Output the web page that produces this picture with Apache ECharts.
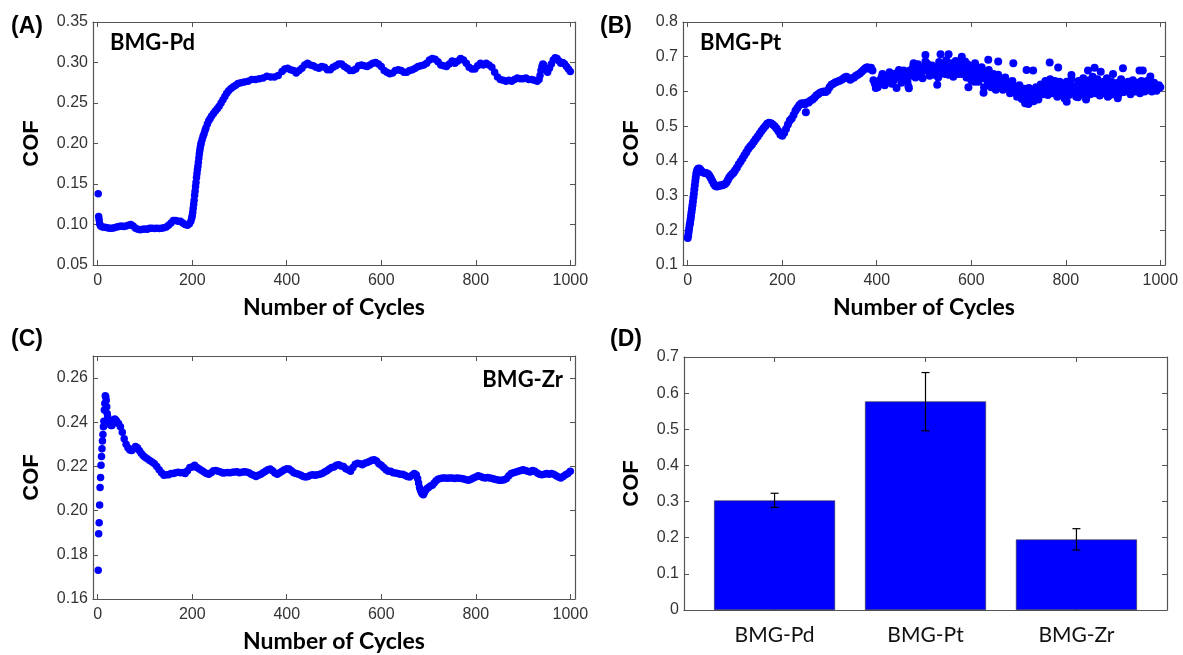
<!DOCTYPE html>
<html>
<head>
<meta charset="utf-8">
<script src="https://cdn.jsdelivr.net/npm/echarts@6.0.0/dist/echarts.min.js"></script>
<style>
  html, body { margin: 0; padding: 0; background: #fff; }
  #chart { width: 1183px; height: 655px; }
</style>
</head>
<body>
<div id="chart"></div>
<script>
// tick labels
const cycleTicks = [0, 200, 400, 600, 800, 1000]
const pdTicks = [0.05, 0.10, 0.15, 0.20, 0.25, 0.30, 0.35]
const ptTicks = [0.1, 0.2, 0.3, 0.4, 0.5, 0.6, 0.7, 0.8]
const zrTicks = [0.16, 0.18, 0.20, 0.22, 0.24, 0.26]
const barTicks = [0, 0.1, 0.2, 0.3, 0.4, 0.5, 0.6, 0.7]

// (A) BMG-Pd
const pdCycles = [1, 2, 3, 4, 6, 10, 15, 20, 25, 30, 35, 40, 45, 50, 55, 60, 65, 70, 75, 80, 85, 90, 95, 100,
  105, 110, 115, 120, 125, 130, 135, 140, 145, 150, 155, 160, 165, 170, 175, 180, 185, 190, 194, 197, 199,
  200, 201, 202, 203, 204, 205, 206, 207, 208, 209, 210, 211, 212, 213, 214, 215, 216, 217, 218, 219, 221, 223, 225, 227, 229,
  232, 235, 238, 241, 245, 249, 253, 257, 261, 265, 269, 273, 277, 282, 287, 292, 297, 303, 310, 318,
  326, 334, 342, 350, 358, 366, 374, 382, 390, 396, 402, 408, 414, 420, 426, 432, 438, 444, 450, 456,
  462, 468, 474, 480, 486, 492, 498, 504, 510, 516, 522, 528, 534, 540, 546, 552, 558, 564, 570, 576,
  582, 588, 594, 600, 606, 612, 618, 624, 630, 636, 642, 648, 654, 660, 666, 672, 678, 684, 690, 696,
  702, 708, 714, 720, 726, 732, 738, 744, 750, 756, 762, 768, 774, 780, 786, 792, 798, 804, 810, 816,
  822, 828, 834, 840, 846, 852, 858, 864, 870, 876, 882, 888, 894, 900, 906, 912, 918, 924, 930, 934,
  936, 938, 940, 942, 944, 948, 952, 956, 960, 964, 968, 972, 976, 980, 984, 988, 992, 996, 1000]
const pdCof = [0.138, 0.110, 0.106, 0.101, 0.098, 0.097, 0.0965, 0.096, 0.0955, 0.0955, 0.096, 0.097, 0.0975, 0.098, 0.0975, 0.098, 0.099, 0.100, 0.098, 0.0955, 0.094, 0.0935, 0.094, 0.0945,
  0.094, 0.0955, 0.0955, 0.095, 0.0955, 0.095, 0.0955, 0.096, 0.097, 0.099, 0.102, 0.105, 0.105, 0.104, 0.104, 0.102, 0.100, 0.099, 0.101, 0.104, 0.108,
  0.111, 0.115, 0.120, 0.125, 0.130, 0.136, 0.141, 0.147, 0.152, 0.158, 0.163, 0.168, 0.172, 0.177, 0.182, 0.187, 0.191, 0.195, 0.198, 0.201, 0.205, 0.209, 0.212, 0.216, 0.219,
  0.224, 0.228, 0.231, 0.234, 0.237, 0.240, 0.243, 0.246, 0.250, 0.254, 0.258, 0.262, 0.265, 0.268, 0.270, 0.272, 0.274, 0.275, 0.276, 0.277,
  0.279, 0.279, 0.280, 0.281, 0.283, 0.282, 0.282, 0.284, 0.289, 0.292, 0.293, 0.291, 0.290, 0.287, 0.290, 0.293, 0.297, 0.299, 0.297, 0.296,
  0.294, 0.293, 0.295, 0.294, 0.291, 0.291, 0.294, 0.296, 0.298, 0.298, 0.295, 0.293, 0.290, 0.290, 0.292, 0.296, 0.297, 0.296, 0.295, 0.297,
  0.299, 0.300, 0.298, 0.295, 0.290, 0.288, 0.286, 0.287, 0.290, 0.291, 0.290, 0.288, 0.288, 0.290, 0.291, 0.293, 0.295, 0.296, 0.297, 0.299,
  0.303, 0.305, 0.304, 0.301, 0.297, 0.296, 0.295, 0.298, 0.302, 0.299, 0.302, 0.305, 0.303, 0.299, 0.294, 0.292, 0.292, 0.296, 0.299, 0.297,
  0.299, 0.297, 0.294, 0.288, 0.282, 0.279, 0.278, 0.277, 0.278, 0.277, 0.279, 0.281, 0.280, 0.280, 0.281, 0.279, 0.279, 0.278, 0.277, 0.279,
  0.284, 0.290, 0.295, 0.298, 0.297, 0.292, 0.288, 0.293, 0.298, 0.303, 0.306, 0.305, 0.302, 0.299, 0.300, 0.298, 0.295, 0.292, 0.289]

// (B) BMG-Pt, main band
const ptCycles = [0, 1, 2, 3, 4, 5, 6, 7, 8, 9, 10, 11, 12, 13, 14, 15, 16, 17, 18, 19, 20, 22, 24, 26, 28, 31, 34, 37, 40,
  43, 46, 49, 52, 55, 58, 61, 64, 67, 70, 73, 76, 79, 82, 85, 88, 91, 94, 97, 100, 104, 108, 112, 116, 120, 124,
  128, 132, 136, 140, 144, 148, 152, 156, 160, 164, 168, 172, 176, 180, 184, 188, 192, 196, 200, 204, 208, 212,
  216, 220, 224, 228, 232, 236, 240, 244, 248, 250, 252, 256, 260, 264, 268, 272, 276, 280, 284, 288, 292, 296,
  300, 304, 308, 312, 316, 320, 324, 328, 332, 336, 340, 344, 348, 352, 356, 360, 364, 368, 372, 376, 380, 384,
  388, 391, 393, 396, 398, 400, 403,
  405, 410, 415, 420, 425, 430, 435, 440, 445, 450, 455, 460, 465, 470, 475, 480, 485, 490, 495, 500,
  505, 510, 515, 520, 525, 530, 535, 540, 545, 550, 555, 560, 565, 570, 575, 580, 585, 590, 595, 600,
  605, 610, 615, 620, 625, 630, 635, 640, 645, 650, 655, 660, 665, 670, 675, 680, 685, 690, 695, 700,
  705, 710, 715, 720, 725, 730, 735, 740, 745, 750, 755, 760, 765, 770, 775, 780, 785, 790, 795, 800,
  805, 810, 815, 820, 825, 830, 835, 840, 845, 850, 855, 860, 865, 870, 875, 880, 885, 890, 895, 900,
  905, 910, 915, 920, 925, 930, 935, 940, 945, 950, 955, 960, 965, 970, 975, 980, 985, 990, 995, 1000]
const ptCof = [0.178, 0.185, 0.195, 0.205, 0.215, 0.222, 0.232, 0.242, 0.252, 0.262, 0.272, 0.283, 0.295, 0.305, 0.318, 0.330, 0.342, 0.352, 0.362, 0.368, 0.373, 0.377, 0.378, 0.376, 0.372, 0.368, 0.366, 0.365, 0.364,
  0.362, 0.357, 0.350, 0.342, 0.334, 0.328, 0.326, 0.327, 0.329, 0.329, 0.330, 0.331, 0.333, 0.338, 0.345, 0.353, 0.358, 0.362, 0.366, 0.372, 0.380, 0.390, 0.398, 0.407, 0.416, 0.425,
  0.434, 0.441, 0.447, 0.455, 0.463, 0.470, 0.478, 0.486, 0.493, 0.500, 0.507, 0.510, 0.508, 0.505, 0.500, 0.493, 0.485, 0.476, 0.472, 0.480, 0.492, 0.505,
  0.516, 0.522, 0.532, 0.544, 0.552, 0.560, 0.565, 0.566, 0.563, 0.540, 0.568, 0.568, 0.574, 0.577, 0.582, 0.588, 0.592, 0.596, 0.598, 0.600, 0.598, 0.603,
  0.612, 0.619, 0.622, 0.626, 0.628, 0.630, 0.632, 0.636, 0.640, 0.642, 0.638, 0.634, 0.638, 0.640, 0.645, 0.648, 0.652, 0.657, 0.662, 0.667, 0.670, 0.665,
  0.668, 0.660, 0.632, 0.622, 0.610, 0.618, 0.627,
  0.625, 0.640, 0.628, 0.645, 0.635, 0.648, 0.630, 0.652, 0.640, 0.655, 0.638, 0.650, 0.628, 0.660, 0.645, 0.665, 0.650, 0.668, 0.655, 0.672,
  0.660, 0.668, 0.652, 0.670, 0.658, 0.640, 0.665, 0.675, 0.650, 0.668, 0.660, 0.678, 0.655, 0.672, 0.665, 0.650, 0.668, 0.640, 0.655, 0.632,
  0.660, 0.645, 0.628, 0.650, 0.638, 0.655, 0.625, 0.645, 0.630, 0.640, 0.622, 0.635, 0.618, 0.632, 0.610, 0.625, 0.605, 0.615, 0.600, 0.612,
  0.595, 0.605, 0.590, 0.600, 0.585, 0.598, 0.592, 0.605, 0.595, 0.612, 0.600, 0.618, 0.605, 0.625, 0.610, 0.620, 0.602, 0.615, 0.598, 0.612,
  0.605, 0.620, 0.600, 0.615, 0.598, 0.625, 0.608, 0.618, 0.600, 0.632, 0.610, 0.622, 0.605, 0.618, 0.600, 0.628, 0.612, 0.620, 0.602, 0.615,
  0.605, 0.625, 0.610, 0.618, 0.600, 0.612, 0.605, 0.620, 0.608, 0.625, 0.612, 0.630, 0.615, 0.622, 0.608, 0.618, 0.612, 0.615, 0.610, 0.612]
// (B) BMG-Pt, second layer of the noisy band
const ptBandCycles = [402, 407, 412, 417, 422, 427, 432, 437, 442, 447, 452, 457, 462, 467, 472, 477, 482, 487, 492, 497,
  502, 507, 512, 517, 522, 527, 532, 537, 542, 547, 552, 557, 562, 567, 572, 577, 582, 587, 592, 597,
  602, 607, 612, 617, 622, 627, 632, 637, 642, 647, 652, 657, 662, 667, 672, 677, 682, 687, 692, 697,
  702, 707, 712, 717, 722, 727, 732, 737, 742, 747, 752, 757, 762, 767, 772, 777, 782, 787, 792, 797,
  802, 807, 812, 817, 822, 827, 832, 837, 842, 847, 852, 857, 862, 867, 872, 877, 882, 887, 892, 897,
  902, 907, 912, 917, 922, 927, 932, 937, 942, 947, 952, 957, 962, 967, 972, 977, 982, 987, 992, 997]
const ptBandCof = [0.612, 0.632, 0.650, 0.618, 0.638, 0.655, 0.622, 0.645, 0.610, 0.662, 0.625, 0.660, 0.645, 0.615, 0.650, 0.672, 0.640, 0.678, 0.650, 0.638,
  0.662, 0.680, 0.645, 0.675, 0.648, 0.665, 0.685, 0.652, 0.660, 0.690, 0.648, 0.670, 0.642, 0.688, 0.650, 0.682, 0.662, 0.652, 0.678, 0.645,
  0.668, 0.628, 0.665, 0.640, 0.670, 0.612, 0.640, 0.662, 0.612, 0.650, 0.605, 0.648, 0.628, 0.605, 0.640, 0.620, 0.595, 0.630, 0.600, 0.585,
  0.618, 0.578, 0.608, 0.572, 0.610, 0.588, 0.572, 0.612, 0.585, 0.620, 0.592, 0.630, 0.590, 0.635, 0.595, 0.630, 0.585, 0.628, 0.600, 0.580,
  0.628, 0.590, 0.635, 0.608, 0.585, 0.630, 0.592, 0.638, 0.585, 0.625, 0.592, 0.642, 0.595, 0.635, 0.588, 0.618, 0.595, 0.638, 0.588, 0.628,
  0.592, 0.618, 0.592, 0.635, 0.598, 0.622, 0.628, 0.592, 0.632, 0.600, 0.622, 0.595, 0.620, 0.600, 0.630, 0.608, 0.600, 0.625, 0.602, 0.618]
// (B) BMG-Pt, scattered points above/below the band
const ptOutCycles = [478, 503, 503, 535, 552, 555, 580, 587, 608, 636, 657, 689, 717, 731, 766, 784, 812, 847, 861, 874,
  900, 921, 956, 963, 979, 468, 528, 594, 626, 714, 721, 742, 802, 826, 843, 910, 889, 987, 998]
const ptOutCof = [0.681, 0.705, 0.686, 0.707, 0.707, 0.681, 0.700, 0.686, 0.681, 0.691, 0.686, 0.681, 0.662, 0.660, 0.683, 0.669, 0.647, 0.660, 0.668, 0.657,
  0.650, 0.667, 0.660, 0.660, 0.643, 0.609, 0.619, 0.612, 0.596, 0.566, 0.564, 0.577, 0.570, 0.583, 0.577, 0.580, 0.585, 0.609, 0.612]

// (C) BMG-Zr
const zrCycles = [1, 2, 3, 4, 5, 6, 7, 8, 9, 10, 11, 12, 13, 14, 15, 16, 17, 18, 19, 20, 21, 22, 24, 26, 28, 30, 32, 34, 36, 38,
  40, 44, 48, 52, 56, 60, 64, 68, 72, 76, 80, 84, 88, 92, 96, 100, 105, 110, 115, 120, 125, 130, 135, 140,
  145, 150, 155, 160, 165, 170, 175, 180, 185, 190, 195, 200, 205, 210, 215, 220, 225, 230, 235, 240, 245, 250,
  255, 260, 265, 270, 275, 280, 285, 290, 295, 300, 305, 310, 315, 320, 325, 330, 335, 340, 345, 350, 355, 360,
  365, 370, 375, 380, 385, 390, 395, 400, 405, 410, 415, 420, 425, 430, 435, 440, 445, 450, 455, 460, 465, 470,
  475, 480, 485, 490, 495, 500, 505, 510, 515, 520, 525, 530, 535, 540, 545, 550, 555, 560, 565, 570, 575, 580,
  585, 590, 595, 600, 605, 610, 615, 620, 625, 630, 635, 640, 645, 650, 655, 660, 665, 670, 674, 677, 679, 681,
  683, 685, 687, 689, 691, 694, 697, 700, 704, 708, 712, 716, 720, 725, 730, 735, 740, 745, 750, 755, 760, 765,
  770, 775, 780, 785, 790, 795, 800, 805, 810, 815, 820, 825, 830, 835, 840, 845, 850, 855, 860, 865, 870, 875,
  880, 885, 890, 895, 900, 905, 910, 915, 920, 925, 930, 935, 940, 945, 950, 955, 960, 965, 970, 975, 980, 985,
  990, 995, 1000]
const zrCof = [0.173, 0.1895, 0.1945, 0.2025, 0.2105, 0.215, 0.2205, 0.2245, 0.228, 0.2315, 0.2345, 0.238, 0.2405, 0.2455, 0.2485, 0.252, 0.2515, 0.250, 0.247, 0.244, 0.2425, 0.2415, 0.240, 0.239, 0.2385, 0.2385, 0.2395, 0.241, 0.2415, 0.241,
  0.2405, 0.2395, 0.238, 0.2355, 0.2325, 0.230, 0.2285, 0.2275, 0.2272, 0.228, 0.229, 0.2285, 0.2272, 0.226, 0.225, 0.2242, 0.2235, 0.2227, 0.222, 0.2212, 0.220, 0.2185, 0.2172, 0.216,
  0.2163, 0.2163, 0.2168, 0.2168, 0.2172, 0.2174, 0.2172, 0.2173, 0.2168, 0.218, 0.2195, 0.2198, 0.2205, 0.2195, 0.2188, 0.2182, 0.2175, 0.2168, 0.2165, 0.2172, 0.218, 0.2182,
  0.2178, 0.2175, 0.217, 0.2172, 0.2173, 0.2172, 0.2174, 0.2175, 0.2176, 0.2172, 0.2174, 0.2176, 0.2175, 0.2172, 0.2165, 0.216, 0.2155, 0.216, 0.2165, 0.2172, 0.2178, 0.2185,
  0.2188, 0.218, 0.217, 0.2165, 0.2172, 0.2178, 0.2185, 0.219, 0.2188, 0.218, 0.2172, 0.2168, 0.2165, 0.216, 0.2155, 0.2152, 0.2155, 0.216, 0.2163, 0.216, 0.2163, 0.2165,
  0.2168, 0.2175, 0.218, 0.2188, 0.2195, 0.2198, 0.2205, 0.2208, 0.2202, 0.220, 0.219, 0.2185, 0.2178, 0.2195, 0.221, 0.2215, 0.2212, 0.2208, 0.2215, 0.2218, 0.2222, 0.2228,
  0.223, 0.2225, 0.2212, 0.2205, 0.2195, 0.2185, 0.2178, 0.2178, 0.2172, 0.217, 0.2168, 0.2165, 0.2165, 0.216, 0.2155, 0.2152, 0.216, 0.2168, 0.2162, 0.2145, 0.2125, 0.2105,
  0.2092, 0.2082, 0.2075, 0.2072, 0.208, 0.2092, 0.210, 0.2105, 0.2112, 0.2115, 0.2125, 0.2135, 0.2142, 0.2145, 0.2148, 0.2148, 0.2147, 0.2148, 0.2148, 0.2145, 0.2148, 0.2147,
  0.2145, 0.2143, 0.214, 0.2138, 0.2142, 0.2148, 0.2152, 0.2158, 0.2155, 0.215, 0.2148, 0.215, 0.2148, 0.2145, 0.2142, 0.214, 0.2138, 0.2138, 0.214, 0.2145, 0.2158, 0.2168,
  0.2172, 0.2175, 0.2178, 0.2182, 0.2185, 0.2182, 0.2178, 0.2175, 0.2182, 0.2178, 0.217, 0.2165, 0.2162, 0.2165, 0.2168, 0.2165, 0.2168, 0.2165, 0.2158, 0.2152, 0.2148, 0.2155,
  0.2162, 0.2168, 0.2178]

// (D) average COF
const barNames = ['BMG-Pd', 'BMG-Pt', 'BMG-Zr']
const barMeans = [0.303, 0.577, 0.195]
const barLow = [0.284, 0.496, 0.166]
const barHigh = [0.323, 0.657, 0.225]

const BLUE = '#0000ff'
const AXIS = '#555'
const tickFont = { color: '#333', fontSize: 16, fontFamily: 'Liberation Sans' }
const nameFont = { color: '#000', fontSize: 23, fontWeight: 'bold', fontFamily: 'Lato' }
const cofFont = { color: '#000', fontSize: 22, fontWeight: 'bold', fontFamily: 'Liberation Sans' }

function xPair(gi, min, max, ticks, fmt, withName) {
  const base = {
    gridIndex: gi, type: 'value', min, max,
    axisLine: { show: true, onZero: false, lineStyle: { color: AXIS, width: 1.2 } },
    axisTick: { show: true, inside: true, length: 5, customValues: ticks, lineStyle: { color: AXIS } },
    splitLine: { show: false },
  }
  return [
    Object.assign({}, base, {
      position: 'bottom',
      axisLabel: Object.assign({ customValues: ticks, margin: 8, formatter: fmt }, tickFont),
      name: withName ? 'Number of Cycles' : '', nameLocation: 'middle', nameGap: 31, nameTextStyle: nameFont,
    }),
    Object.assign({}, base, { position: 'top', axisLabel: { show: false } }),
  ]
}
function yPair(gi, min, max, ticks, digits, gap) {
  const base = {
    gridIndex: gi, type: 'value', min, max,
    axisLine: { show: true, onZero: false, lineStyle: { color: AXIS, width: 1.2 } },
    axisTick: { show: true, inside: true, length: 5, customValues: ticks, lineStyle: { color: AXIS } },
    splitLine: { show: false },
  }
  return [
    Object.assign({}, base, {
      position: 'left',
      axisLabel: Object.assign({ customValues: ticks, margin: 5, formatter: v => (v === 0 ? '0' : v.toFixed(digits)) }, tickFont),
      name: 'COF', nameLocation: 'middle', nameRotate: 90, nameGap: gap, nameTextStyle: cofFont,
    }),
    Object.assign({}, base, { position: 'right', axisLabel: { show: false } }),
  ]
}

const zip = (xs, ys) => xs.map((x, i) => [x, ys[i]])
const dots = (xi, yi, data, size) => ({
  type: 'scatter', xAxisIndex: xi, yAxisIndex: yi, data, symbolSize: size,
  itemStyle: { color: BLUE, opacity: 1 }, silent: true, clip: true,
})

const chart = echarts.init(document.getElementById('chart'), null, { renderer: 'canvas' })
chart.setOption({
  animation: false,
  backgroundColor: '#fff',
  grid: [
    { left: 93, top: 22, width: 482, height: 243 },
    { left: 683, top: 22, width: 482, height: 243 },
    { left: 93, top: 356, width: 482, height: 243 },
    { left: 684, top: 357, width: 483, height: 253 },
  ],
  xAxis: [
    ...xPair(0, -10, 1010, cycleTicks, v => String(v), true),
    ...xPair(1, -10, 1010, cycleTicks, v => String(v), true),
    ...xPair(2, -10, 1010, cycleTicks, v => String(v), true),
    ...xPair(3, 0.4, 3.6, [1, 2, 3], v => barNames[Math.round(v) - 1], false),
  ],
  yAxis: [
    ...yPair(0, 0.05, 0.35, pdTicks, 2, 50),
    ...yPair(1, 0.1, 0.8, ptTicks, 1, 40),
    ...yPair(2, 0.16, 0.27, zrTicks, 2, 50),
    ...yPair(3, 0, 0.7, barTicks, 1, 41),
  ],
  graphic: [
    { type: 'text', left: 11, top: 15, style: { text: '(A)', font: 'bold 23px "Liberation Sans"', fill: '#000' } },
    { type: 'text', left: 600, top: 15, style: { text: '(B)', font: 'bold 23px "Liberation Sans"', fill: '#000' } },
    { type: 'text', left: 11, top: 328, style: { text: '(C)', font: 'bold 23px "Liberation Sans"', fill: '#000' } },
    { type: 'text', left: 610, top: 328, style: { text: '(D)', font: 'bold 23px "Liberation Sans"', fill: '#000' } },
    { type: 'text', left: 110, top: 32, style: { text: 'BMG-Pd', font: 'bold 22px Lato', fill: '#000' } },
    { type: 'text', left: 700, top: 32, style: { text: 'BMG-Pt', font: 'bold 22px Lato', fill: '#000' } },
    { type: 'text', right: 620, top: 369, style: { text: 'BMG-Zr', font: 'bold 22px Lato', fill: '#000' } },
  ],
  series: [
    dots(0, 0, zip(pdCycles, pdCof), 7.5),
    dots(2, 2, zip(ptCycles, ptCof), 8),
    dots(2, 2, zip(ptBandCycles, ptBandCof), 8),
    dots(2, 2, zip(ptOutCycles, ptOutCof), 8),
    dots(4, 4, zip(zrCycles, zrCof), 7.5),
    {
      type: 'bar', xAxisIndex: 6, yAxisIndex: 6, barWidth: 121,
      data: barMeans.map((v, i) => [i + 1, v]),
      itemStyle: { color: BLUE, borderColor: '#333', borderWidth: 0.6 }, silent: true,
    },
    {
      type: 'custom', xAxisIndex: 6, yAxisIndex: 6, silent: true, z: 5,
      data: barMeans.map((v, i) => [i + 1, barLow[i], barHigh[i]]),
      renderItem: (params, api) => {
        const top = api.coord([api.value(0), api.value(2)])
        const bot = api.coord([api.value(0), api.value(1)])
        const w = 4, st = { stroke: '#000', lineWidth: 1.2 }
        return {
          type: 'group', children: [
            { type: 'line', shape: { x1: top[0], y1: top[1], x2: bot[0], y2: bot[1] }, style: st },
            { type: 'line', shape: { x1: top[0] - w, y1: top[1], x2: top[0] + w, y2: top[1] }, style: st },
            { type: 'line', shape: { x1: bot[0] - w, y1: bot[1], x2: bot[0] + w, y2: bot[1] }, style: st },
          ],
        }
      },
    },
  ],
})
// bar panel category labels use a lighter font than the cycle axes
chart.setOption({
  xAxis: [{}, {}, {}, {}, {}, {}, { axisLabel: { fontFamily: 'Lato', fontSize: 21, color: '#111', margin: 15 } }, {}],
})
</script>
</body>
</html>
